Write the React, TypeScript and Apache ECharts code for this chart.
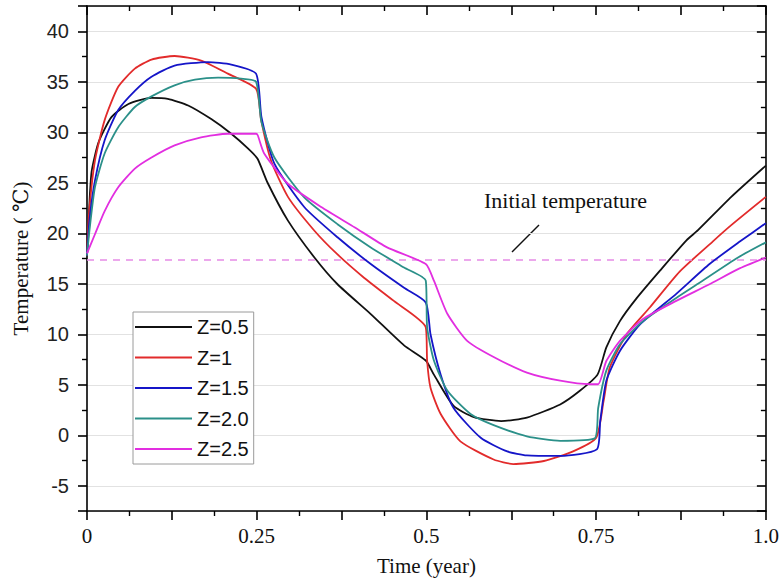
import React, { useEffect, useRef } from "react";
import * as echarts from "echarts";

// ---- data ----
const seriesNames = ["Z=0.5", "Z=1", "Z=1.5", "Z=2.0", "Z=2.5"];
const seriesColors = ["#111111", "#e22b2b", "#1515c8", "#2b9089", "#e22ee0"];

const z05: [number, number][] = [
  [0, 17.8], [0.004, 23.5], [0.007, 26.2], [0.017, 29.0], [0.036, 31.5], [0.061, 32.8],
  [0.095, 33.4], [0.119, 33.3], [0.149, 32.65], [0.183, 31.3], [0.2125, 29.85], [0.237, 28.4],
  [0.251, 27.4], [0.266, 25.0], [0.296, 21.25], [0.335, 17.6], [0.369, 14.95], [0.418, 12.0],
  [0.467, 8.9], [0.499, 7.4], [0.511, 6.0], [0.54, 2.9], [0.57, 1.8], [0.61, 1.4],
  [0.648, 1.75], [0.697, 3.05], [0.726, 4.4], [0.752, 6.0], [0.765, 8.7], [0.785, 11.3],
  [0.81, 13.6], [0.844, 16.3], [0.883, 19.3], [0.9, 20.3], [0.949, 23.6], [1.0, 26.7],
];
const z1: [number, number][] = [
  [0, 17.8], [0.003, 22.0], [0.0117, 27.2], [0.026, 31.2], [0.046, 34.5], [0.0705, 36.3],
  [0.095, 37.2], [0.129, 37.55], [0.168, 37.1], [0.2075, 35.8], [0.249, 34.3], [0.2565, 31.2],
  [0.271, 27.2], [0.296, 23.6], [0.335, 20.25], [0.369, 17.9], [0.408, 15.6], [0.452, 13.3],
  [0.499, 10.7], [0.501, 7.4], [0.506, 4.7], [0.521, 2.1], [0.55, -0.6], [0.599, -2.4],
  [0.628, -2.85], [0.673, -2.55], [0.716, -1.6], [0.75, -0.25], [0.761, 3.4], [0.77, 6.7],
  [0.795, 10.0], [0.829, 12.65], [0.873, 16.2], [0.922, 19.2], [0.949, 20.8], [1.0, 23.6],
];
const z15: [number, number][] = [
  [0, 17.8], [0.004, 21.5], [0.0117, 25.2], [0.026, 29.2], [0.046, 32.2], [0.0705, 34.1],
  [0.095, 35.5], [0.129, 36.6], [0.178, 36.95], [0.2125, 36.7], [0.249, 35.8], [0.257, 31.5],
  [0.276, 26.9], [0.32, 22.6], [0.369, 19.6], [0.418, 16.95], [0.467, 14.6], [0.499, 13.15],
  [0.506, 10.0], [0.521, 6.0], [0.54, 2.7], [0.58, -0.25], [0.619, -1.6], [0.648, -2.0],
  [0.697, -2.05], [0.751, -1.4], [0.756, 1.4], [0.765, 5.4], [0.785, 8.35], [0.815, 11.0],
  [0.868, 14.0], [0.917, 16.95], [0.96, 19.1], [1.0, 21.0],
];
const z20: [number, number][] = [
  [0, 17.8], [0.004, 20.5], [0.0117, 24.55], [0.026, 27.9], [0.046, 30.5], [0.0705, 32.5],
  [0.095, 33.55], [0.129, 34.65], [0.159, 35.2], [0.193, 35.4], [0.227, 35.3], [0.249, 35.0],
  [0.257, 31.0], [0.276, 27.5], [0.32, 23.55], [0.369, 20.9], [0.418, 18.6], [0.467, 16.6],
  [0.499, 15.3], [0.501, 10.7], [0.511, 7.4], [0.531, 4.4], [0.565, 2.1], [0.599, 1.0],
  [0.648, -0.1], [0.697, -0.55], [0.748, -0.3], [0.753, 2.7], [0.765, 6.4], [0.785, 9.0],
  [0.819, 11.3], [0.868, 13.6], [0.9, 15.0], [0.959, 17.6], [1.0, 19.1],
];
const z25: [number, number][] = [
  [0, 18.0], [0.0117, 19.9], [0.026, 22.2], [0.046, 24.55], [0.0705, 26.4], [0.095, 27.5],
  [0.129, 28.7], [0.168, 29.5], [0.2075, 29.85], [0.249, 29.85], [0.2515, 29.7], [0.261, 27.9],
  [0.296, 24.9], [0.345, 22.6], [0.394, 20.6], [0.442, 18.6], [0.499, 16.95], [0.511, 15.3],
  [0.531, 12.0], [0.56, 9.35], [0.599, 7.75], [0.648, 6.2], [0.697, 5.4], [0.741, 5.05],
  [0.753, 5.05], [0.765, 7.35], [0.785, 9.35], [0.819, 11.5], [0.868, 13.3], [0.917, 14.95],
  [0.959, 16.45], [1.0, 17.6],
];
const seriesData = [z05, z1, z15, z20, z25];

const initialTemperature = 17.4;
const xTickValues = [0, 0.25, 0.5, 0.75, 1.0];
const xTickLabels = ["0", "0.25", "0.5", "0.75", "1.0"];
const yLabelStep = 5;

const serif = "'Liberation Serif', 'Times New Roman', 'DejaVu Serif', serif";
const sans = "'Liberation Sans', Arial, 'DejaVu Sans', sans-serif";

export default function App() {
  const ref = useRef<HTMLDivElement>(null);
  useEffect(() => {
    if (!ref.current) return;
    const chart = echarts.init(ref.current, undefined, { renderer: "svg" });
    const axisLineStyle = { color: "#000", width: 1.6 };
    const xFormatter = (v: number) => {
      const i = xTickValues.findIndex((t) => Math.abs(t - v) < 1e-6);
      return i >= 0 ? xTickLabels[i] : "";
    };
    const yFormatter = (v: number) => {
      const r = Math.round(v / yLabelStep) * yLabelStep;
      return Math.abs(r - v) < 1e-6 ? String(r) : "";
    };
    const tick = (inside: boolean) => ({
      show: true, inside, length: 9, lineStyle: { color: "#000", width: 1.6 },
    });
    const minor = { show: true, splitNumber: 2, length: 5, lineStyle: { color: "#000", width: 1.4 } };
    const option: any = {
      animation: false,
      backgroundColor: "#fff",
      grid: { left: 87, right: 14, top: 6, bottom: 71, containLabel: false },
      xAxis: [
        {
          type: "value", min: 0, max: 1, interval: 0.125, position: "bottom",
          axisLine: { show: true, onZero: false, lineStyle: axisLineStyle },
          axisTick: tick(false), minorTick: minor,
          axisLabel: {
            formatter: xFormatter, margin: 14, fontFamily: serif, fontSize: 21, color: "#111",
            showMinLabel: true, showMaxLabel: true,
          },
          splitLine: { show: false },
          name: "Time (year)", nameLocation: "middle", nameGap: 44,
          nameTextStyle: { fontFamily: serif, fontSize: 21, color: "#111" },
        },
        {
          type: "value", min: 0, max: 1, interval: 0.125, position: "top",
          axisLine: { show: true, onZero: false, lineStyle: axisLineStyle },
          axisTick: tick(true), minorTick: minor,
          axisLabel: { show: false },
          splitLine: { show: false },
        },
      ],
      yAxis: [
        {
          type: "value", min: -7.5, max: 42.5, splitNumber: 10, position: "left",
          axisLine: { show: true, onZero: false, lineStyle: axisLineStyle },
          axisTick: tick(false), minorTick: minor,
          axisLabel: { formatter: yFormatter, margin: 18, fontFamily: sans, fontSize: 20, color: "#222" },
          splitLine: { show: true, lineStyle: { color: "#e2e2e2", width: 1.2 } },
          name: "Temperature ( \u2103)", nameLocation: "middle", nameGap: 56,
          nameTextStyle: { fontFamily: serif, fontSize: 21, color: "#111" },
        },
        {
          type: "value", min: -7.5, max: 42.5, splitNumber: 10, position: "right",
          axisLine: { show: true, onZero: false, lineStyle: axisLineStyle },
          axisTick: tick(true), minorTick: minor,
          axisLabel: { show: false },
          splitLine: { show: false },
        },
      ],
      legend: {
        orient: "vertical", left: 133, top: 312, icon: "rect",
        padding: [5, 5, 5, 2], itemGap: 10.5, itemWidth: 57, itemHeight: 2,
        borderColor: "#9a9a9a", borderWidth: 1, backgroundColor: "#fff",
        textStyle: { fontFamily: sans, fontSize: 20, color: "#111", lineHeight: 20 },
        data: seriesNames,
      },
      series: seriesNames.map((name, i) => ({
        name, type: "line", data: seriesData[i], xAxisIndex: 0, yAxisIndex: 0,
        showSymbol: false, symbol: "none", smooth: 0.2,
        lineStyle: { color: seriesColors[i], width: 1.8 },
        itemStyle: { color: seriesColors[i] },
        z: 3 + i,
        ...(i === 0
          ? {
              markLine: {
                silent: true, symbol: ["none", "none"], label: { show: false },
                lineStyle: { color: "#e68ce6", type: [7, 6], width: 1.5 },
                data: [{ yAxis: initialTemperature }],
              },
            }
          : {}),
      })),
      graphic: [
        {
          type: "text", left: 484, top: 189,
          style: { text: "Initial temperature", fontFamily: serif, fontSize: 22, fill: "#111" },
        },
        {
          type: "line", shape: { x1: 512, y1: 252, x2: 539, y2: 225 },
          style: { stroke: "#111", lineWidth: 1.5 },
        },
      ],
    };
    chart.setOption(option);
    return () => chart.dispose();
  }, []);
  return <div ref={ref} style={{ width: 782, height: 582, position: "absolute", left: 0, top: 0 }} />;
}
